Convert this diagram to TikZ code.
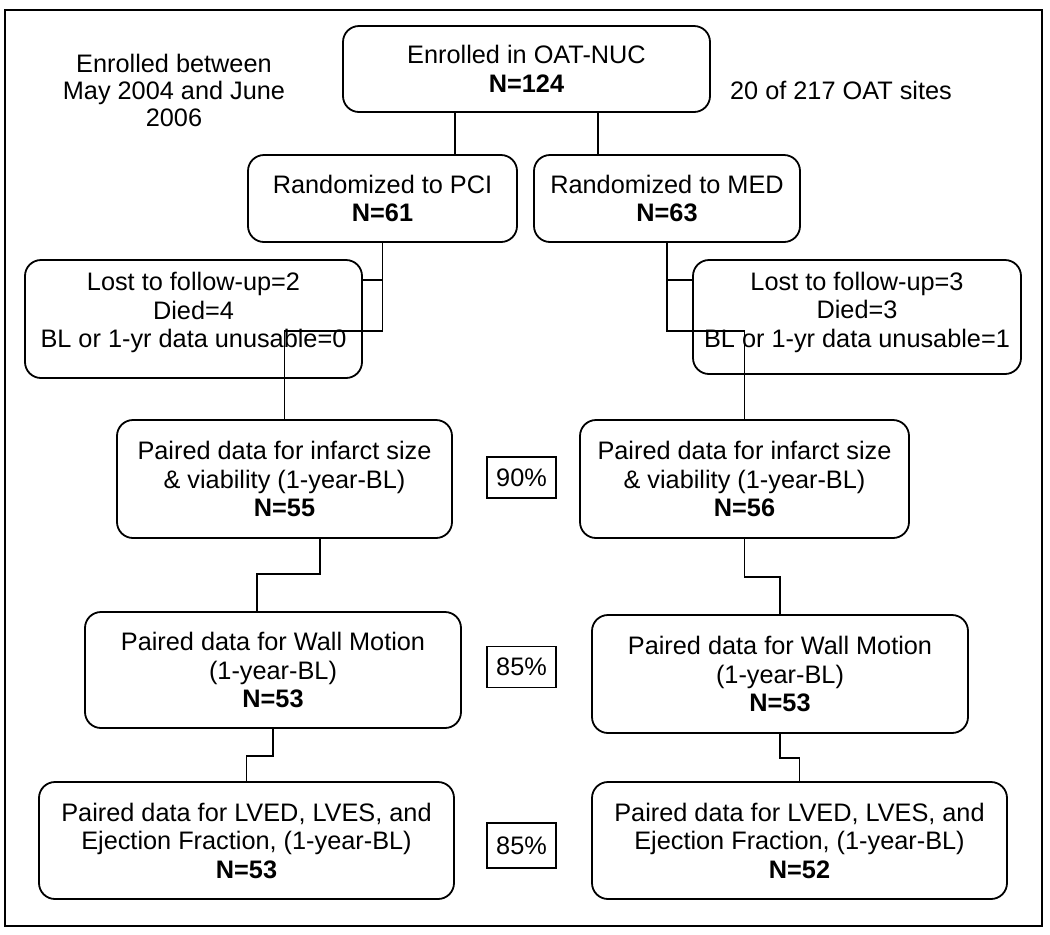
\documentclass[tikz,border=0pt]{standalone}
\usepackage{fontspec}
\setmainfont{Liberation Sans}
\usepackage{tikz}
\usetikzlibrary{calc, positioning}

\begin{document}
\begin{tikzpicture}[x=0.5pt, y=-0.5pt, line width=0.9pt,
			stage/.style={draw, rounded corners=8pt, align=center, inner sep=0pt,
				font=\fontsize{12.65}{14.25}\selectfont},
			pct/.style={draw, minimum width=34.5pt, minimum height=20.5pt, inner sep=0pt,
				font=\fontsize{12.65}{14.25}\selectfont},
			note/.style={align=center, inner sep=0pt, font=\fontsize{12.65}{13.5}\selectfont}]
			
			\useasboundingbox (0,0) rectangle (1050,934);
			\draw[line width=1.2pt] (5,10) rectangle (1042,926);
			
			% Drawing the enrolment
			\node[stage, minimum width=183.5pt, minimum height=43pt] (top) at (526.5,69) {Enrolled in OAT-NUC\\\textbf{N=124}};
			\node[note] (period) at (174,90) {Enrolled between\\May 2004 and June\\2006};
			\node[note] (sites) at (841,90) {20 of 217 OAT sites};
			
			% Drawing the two arms
			\node[stage, minimum width=134.5pt, minimum height=43.5pt] (pci) at (382.5,198.5) {Randomized to PCI\\\textbf{N=61}};
			\node[stage, minimum width=133pt, minimum height=43.5pt] (med) at (667,198.5) {Randomized to MED\\\textbf{N=63}};
			\node[stage, minimum width=168.5pt, minimum height=59pt, text depth=9pt] (lostL) at (193.5,319) {Lost to follow-up=2\\Died=4\\BL or 1-yr data unusable=0};
			\node[stage, minimum width=164pt, minimum height=57pt, text depth=7.5pt] (lostR) at (857,317) {Lost to follow-up=3\\Died=3\\BL or 1-yr data unusable=1};
			
			% Drawing the paired data
			\node[stage, minimum width=167.5pt, minimum height=59pt] (infL) at (284.5,479) {Paired data for infarct size\\\& viability (1-year-BL)\\\textbf{N=55}};
			\node[stage, minimum width=164.5pt, minimum height=59pt] (infR) at (744.5,479) {Paired data for infarct size\\\& viability (1-year-BL)\\\textbf{N=56}};
			\node[stage, minimum width=188pt, minimum height=58pt] (wmL) at (273,670) {Paired data for Wall Motion\\(1-year-BL)\\\textbf{N=53}};
			\node[stage, minimum width=188pt, minimum height=59pt] (wmR) at (780,674) {Paired data for Wall Motion\\(1-year-BL)\\\textbf{N=53}};
			\node[stage, minimum width=207.5pt, minimum height=58.5pt] (efL) at (246.5,840.5) {Paired data for LVED, LVES, and\\Ejection Fraction, (1-year-BL)\\\textbf{N=53}};
			\node[stage, minimum width=207.5pt, minimum height=58.5pt] (efR) at (799.5,840.5) {Paired data for LVED, LVES, and\\Ejection Fraction, (1-year-BL)\\\textbf{N=52}};
			
			% Percentages
			\node[pct] (p90) at (521.5,477.5) {90\%};
			\node[pct] (p85a) at (521.5,667) {85\%};
			\node[pct, minimum height=22.5pt] (p85b) at (521.5,845.5) {85\%};
			
			% Connecting the enrolment to the arms
			\draw ($(top.south)+(-71.5,0)$) coordinate (t1) -- (t1 |- pci.north);
			\draw ($(top.south)+(71.5,0)$) coordinate (t2) -- (t2 |- med.north);
			
			% Connecting the arms
			\draw (pci.south) -- ++(0,88) -| (infL.north);
			\draw ($(lostL.north east)+(0,21)$) coordinate (l1) -- (l1 -| pci.south);
			\draw (med.south) -- ++(0,88) -| (infR.north);
			\draw ($(lostR.north west)+(0,21)$) coordinate (l2) -- (l2 -| med.south);
			
			% Connecting the paired data
			\draw ($(infL.south)+(35.5,0)$) -- ++(0,35) -| ($(wmL.north)+(-16,0)$);
			\draw (infR.south) -- ++(0,38) -| (wmR.north);
			\draw (wmL.south) -- ++(0,27) -| (efL.north);
			\draw (wmR.south) -- ++(0,24) -| (efR.north);
		\end{tikzpicture}
\end{document}
